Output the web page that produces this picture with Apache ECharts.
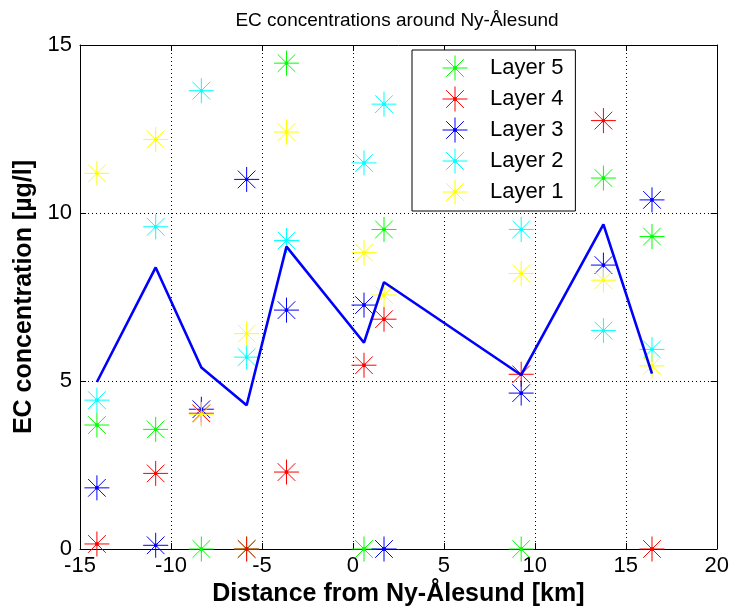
<!DOCTYPE html>
<html>
<head>
<meta charset="utf-8">
<script src="https://cdn.jsdelivr.net/npm/echarts@6/dist/echarts.min.js"></script>
<style>
  html, body { margin: 0; padding: 0; background: #fff; }
  #chart { width: 732px; height: 612px; }
</style>
</head>
<body>
<div id="chart"></div>
<script>
// Sampling stations: distance from Ny-Ålesund (km)
const distance = [-14.07, -10.84, -8.33, -5.84, -3.65, 0.61, 1.71, 9.25, 13.77, 16.44];

// EC concentration per layer at each station (µg/l)
const layer5 = [3.69, 3.56, 0.00, 0.00, 14.46, 0.00, 9.51, 0.00, 11.04, 9.30];
const layer4 = [0.15, 2.25, 4.04, 0.00, 2.29, 5.47, 6.84, 5.20, 12.75, 0.00];
const layer3 = [1.82, 0.11, 4.16, 11.00, 7.11, 7.26, 0.00, 4.64, 8.45, 10.39];
const layer2 = [4.43, 9.59, 13.64, 5.71, 9.18, 11.49, 13.24, 9.51, 6.50, 5.94];
const layer1 = [11.18, 12.19, 4.01, 6.41, 12.41, 8.82, 7.56, 8.20, 8.00, 5.45];

// Blue profile line along the stations
const profile = [4.97, 8.38, 5.40, 4.28, 9.00, 6.14, 7.94, 5.18, 9.66, 5.22];

// Axis ticks
const xTicks = { min: -15, max: 20, step: 5 };
const yTicks = { min: 0, max: 15, step: 5 };

const layers = [
  { name: 'Layer 5', values: layer5, color: '#00ff00' },
  { name: 'Layer 4', values: layer4, color: '#ff0000' },
  { name: 'Layer 3', values: layer3, color: '#0000ff' },
  { name: 'Layer 2', values: layer2, color: '#00ffff' },
  { name: 'Layer 1', values: layer1, color: '#ffff00' }
];

// Eight-armed asterisk marker with a small centre dot
const STAR = 'path://M0,12.5L25,12.5M12.5,0L12.5,25M3.66,3.66L21.34,21.34M21.34,3.66L3.66,21.34' +
             'M11.3,11.3L13.7,11.3L13.7,13.7L11.3,13.7Z';

const FONT = '"Liberation Sans", Arial, Helvetica, sans-serif';

const pairs = (ys) => distance.map((x, i) => [x, ys[i]]);

const series = layers.map(l => ({
  name: l.name,
  type: 'scatter',
  data: pairs(l.values),
  symbol: STAR,
  symbolSize: 25,
  itemStyle: { color: l.color, borderColor: l.color, borderWidth: 1, opacity: 1 },
  emphasis: { disabled: true },
  xAxisIndex: 0,
  yAxisIndex: 0
}));

series.push({
  name: 'profile',
  type: 'line',
  data: pairs(profile),
  showSymbol: false,
  symbol: 'none',
  lineStyle: { color: '#0000ff', width: 2.6 },
  emphasis: { disabled: true },
  z: 3
});

const gridLine = { show: true, lineStyle: { color: '#000', width: 1, type: [1, 3] } };
const axisLine = { show: true, onZero: false, lineStyle: { color: '#000', width: 1 } };
const tick = { show: true, inside: true, length: 6, lineStyle: { color: '#000' } };
const tickLabel = { color: '#000', fontSize: 22, fontFamily: FONT };

const chart = echarts.init(document.getElementById('chart'), null, { renderer: 'canvas' });
chart.setOption({
  animation: false,
  backgroundColor: '#fff',
  title: {
    text: 'EC concentrations around Ny-Ålesund',
    left: 397,
    top: 11,
    padding: 0,
    textAlign: 'center',
    textStyle: { fontSize: 19, fontWeight: 'normal', color: '#000', fontFamily: FONT }
  },
  grid: { left: 80, right: 13, top: 45, bottom: 63, containLabel: false },
  legend: {
    data: layers.map(l => l.name),
    orient: 'vertical',
    left: 412,
    top: 50,
    padding: [5, 12, 6, 30],
    itemWidth: 60,
    itemHeight: 25,
    itemGap: 5,
    backgroundColor: '#fff',
    borderColor: '#000',
    borderWidth: 1,
    borderRadius: 0,
    selectedMode: false,
    itemStyle: { borderWidth: 1 },
    textStyle: { fontSize: 22, color: '#000', fontFamily: FONT }
  },
  xAxis: [{
    type: 'value',
    min: xTicks.min, max: xTicks.max, interval: xTicks.step,
    name: 'Distance from Ny-Ålesund [km]',
    nameLocation: 'middle',
    nameGap: 32,
    nameTextStyle: { fontSize: 25, fontWeight: 'bold', color: '#000', fontFamily: FONT },
    axisLine, axisTick: tick,
    axisLabel: Object.assign({ margin: 6 }, tickLabel),
    splitLine: gridLine
  }, {
    type: 'value', position: 'top',
    min: xTicks.min, max: xTicks.max, interval: xTicks.step,
    axisLine, axisTick: tick, axisLabel: { show: false }, splitLine: { show: false }
  }],
  yAxis: [{
    type: 'value',
    min: yTicks.min, max: yTicks.max, interval: yTicks.step,
    name: 'EC concentration [µg/l]',
    nameLocation: 'middle',
    nameGap: 40,
    nameTextStyle: { fontSize: 25, fontWeight: 'bold', color: '#000', fontFamily: FONT },
    axisLine, axisTick: tick,
    axisLabel: Object.assign({ margin: 8 }, tickLabel),
    splitLine: gridLine
  }, {
    type: 'value', position: 'right',
    min: yTicks.min, max: yTicks.max, interval: yTicks.step,
    axisLine, axisTick: tick, axisLabel: { show: false }, splitLine: { show: false }
  }],
  series
});
</script>
</body>
</html>
